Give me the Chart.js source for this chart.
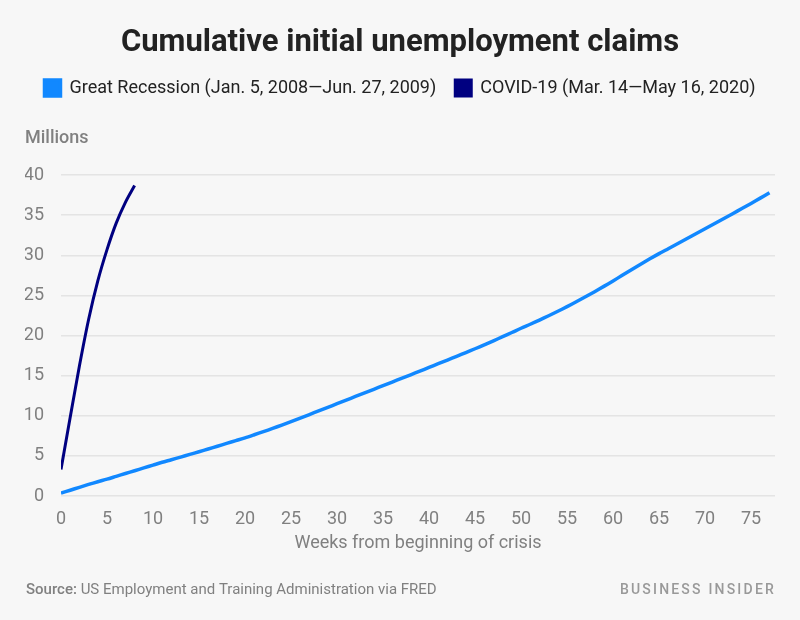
<!DOCTYPE html>
<html>
<head>
<meta charset="utf-8">
<script src="https://cdn.jsdelivr.net/npm/chart.js@4"></script>
<style>
  body { margin: 0; background: #f7f7f7; }
  #wrap { width: 800px; height: 620px; position: relative; }
</style>
</head>
<body>
<div id="wrap"><canvas id="myChart"></canvas></div>
<script>
// cumulative claims, millions, one value per week from start of crisis
var recessionWeeks = [];
for (let i = 0; i <= 77; i++) recessionWeeks.push(i);
var recessionClaims = [
  0.35, 0.72, 1.08, 1.44, 1.78, 2.10, 2.45, 2.80, 3.15, 3.50,
  3.85, 4.20, 4.52, 4.85, 5.18, 5.52, 5.85, 6.20, 6.55, 6.90,
  7.25, 7.63, 8.02, 8.42, 8.84, 9.27, 9.71, 10.15, 10.60, 11.05,
  11.50, 11.95, 12.40, 12.85, 13.30, 13.75, 14.20, 14.65, 15.10, 15.56,
  16.02, 16.48, 16.94, 17.40, 17.87, 18.35, 18.84, 19.34, 19.85, 20.37,
  20.90, 21.40, 21.92, 22.46, 23.02, 23.60, 24.20, 24.82, 25.46, 26.12,
  26.80, 27.50, 28.20, 28.88, 29.55, 30.20, 30.82, 31.44, 32.06, 32.68,
  33.30, 33.92, 34.55, 35.18, 35.82, 36.46, 37.12, 37.80
];
var covidWeeks = [0, 1, 2, 3, 4, 5, 6, 7, 8];
var covidClaims = [3.3, 9.8, 16.2, 22.0, 26.8, 30.7, 34.0, 36.6, 38.7];

var seriesNames = [
  "Great Recession (Jan. 5, 2008\u2014Jun. 27, 2009)",
  "COVID-19 (Mar. 14\u2014May 16, 2020)"
];
var yTicks = [0, 5, 10, 15, 20, 25, 30, 35, 40];

const GRAY = "#808080";
const FONT = "Roboto, 'Noto Sans', sans-serif";

function toPoints(xs, ys) {
  return xs.map((x, i) => ({ x: x, y: ys[i] }));
}

// background and footer
const extras = {
  id: "extras",
  beforeDraw(chart) {
    const c = chart.ctx;
    c.save();
    c.fillStyle = "#f7f7f7";
    c.fillRect(0, 0, chart.width, chart.height);
    c.restore();
  },
  afterDraw(chart) {
    const c = chart.ctx;
    c.save();
    c.fillStyle = GRAY;
    c.textBaseline = "middle";
    c.textAlign = "left";
    c.font = "500 15px " + FONT;
    c.fillText("Source:", 26, 590);
    const w = c.measureText("Source: ").width;
    c.font = "400 15px " + FONT;
    c.fillText("US Employment and Training Administration via FRED", 26 + w, 590);

    c.fillStyle = "#999";
    c.font = "500 14px " + FONT;
    c.letterSpacing = "2.2px";
    c.textAlign = "right";
    c.fillText("BUSINESS INSIDER", 776, 590);
    c.restore();
  }
};

var ctx = document.getElementById("myChart").getContext("2d");
var myChart = new Chart(ctx, {
  type: "line",
  data: {
    datasets: [
      {
        label: seriesNames[0],
        data: toPoints(recessionWeeks, recessionClaims),
        borderColor: "#1188ff",
        backgroundColor: "#1188ff",
        borderWidth: 3.5,
        pointRadius: 0,
        tension: 0.3,
      },
      {
        label: seriesNames[1],
        data: toPoints(covidWeeks, covidClaims),
        borderColor: "#000080",
        backgroundColor: "#000080",
        borderWidth: 3,
        pointRadius: 0,
        cubicInterpolationMode: "monotone",
      },
    ],
  },
  options: {
    responsive: true,
    maintainAspectRatio: false,
    animation: false,
    layout: { padding: { left: 25, right: 25, top: 0, bottom: 64 } },
    plugins: {
      title: {
        display: true,
        text: "Cumulative initial unemployment claims",
        color: "#222",
        font: { family: FONT, size: 31, weight: "bold", lineHeight: 0.8 },
        padding: { top: 30.6, bottom: 4.6 },
      },
      legend: {
        display: true,
        labels: {
          color: "#222",
          font: { family: FONT, size: 18 },
          boxWidth: 16,
          boxHeight: 16,
          padding: 19,
        },
      },
      // "Millions" sits under the legend, above the plot
      subtitle: {
        display: true,
        text: "Millions",
        align: "start",
        weight: 500,
        color: GRAY,
        font: { family: FONT, size: 18, weight: "500" },
        padding: { top: 20.2, bottom: 26.2 },
      },
      tooltip: { enabled: false },
    },
    scales: {
      x: {
        type: "linear",
        min: 0,
        max: 77.6,
        afterFit: (s) => { s.height = 60; },
        grid: { display: false },
        border: { display: false },
        ticks: {
          stepSize: 5,
          includeBounds: false,
          color: GRAY,
          padding: 5,
          maxRotation: 0,
          font: { family: FONT, size: 18 },
        },
        title: {
          display: true,
          text: "Weeks from beginning of crisis",
          color: GRAY,
          font: { family: FONT, size: 18 },
          padding: { top: 0, bottom: 2 },
        },
      },
      y: {
        min: 0,
        max: 40,
        afterFit: (s) => { s.width = 36; },
        afterBuildTicks: (s) => { s.ticks = yTicks.map((v) => ({ value: v })); },
        grid: { color: "#e4e4e4", lineWidth: 1.5, drawTicks: false },
        border: { display: false },
        ticks: {
          color: GRAY,
          padding: 17,
          font: { family: FONT, size: 18 },
        },
      },
    },
  },
  plugins: [extras],
});
</script>
</body>
</html>
